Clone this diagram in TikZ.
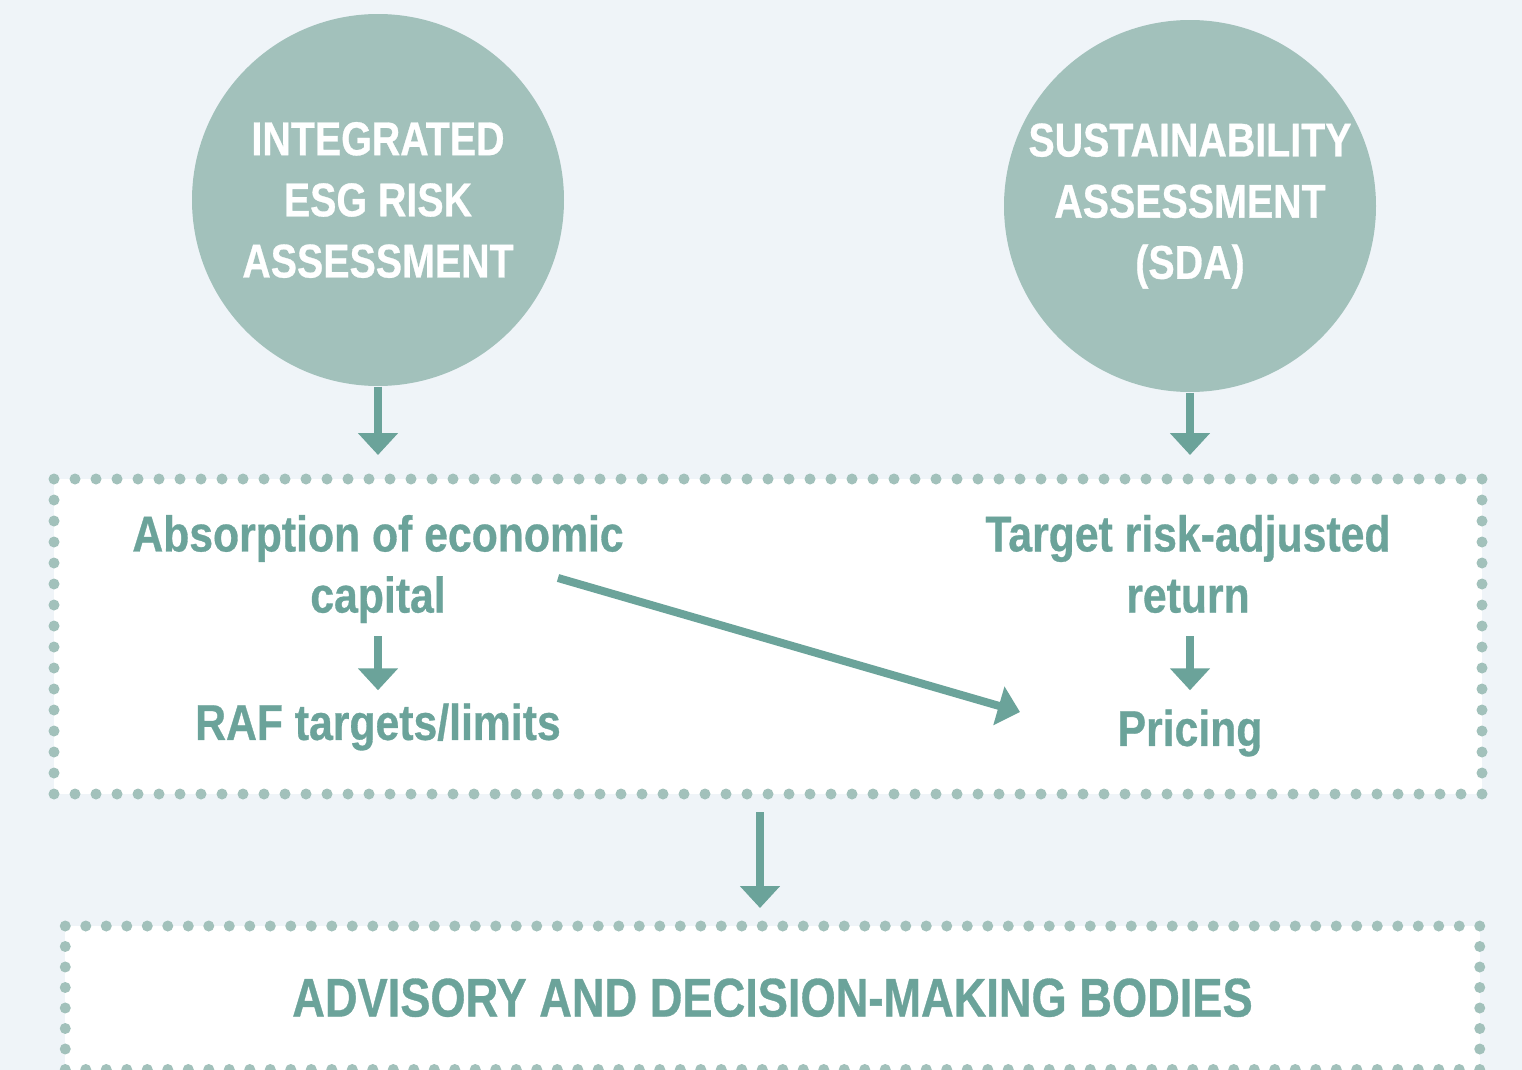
\documentclass[tikz,border=0pt]{standalone}
\usepackage{fontspec}
\setmainfont{Liberation Sans}
\newfontfamily\discfont{Liberation Sans}[FakeStretch=0.83, FakeBold=0.6]
\newfontfamily\boxfont{Liberation Sans}[FakeStretch=0.85, FakeBold=0.6]
\newfontfamily\bodiesfont{Liberation Sans}[FakeStretch=0.83, FakeBold=0.6]
\usetikzlibrary{arrows.meta}
\definecolor{bgblue}{HTML}{EFF4F8}
\definecolor{sage}{HTML}{A2C1BB}
\definecolor{esgteal}{HTML}{6BA39A}

\begin{document}
\begin{tikzpicture}[x=0.1mm, y=-0.1mm,
	disc/.style = { circle, fill=sage, text=white, minimum size=37.2cm/10,
	inner sep=0pt, align=center,
	font=\discfont\bfseries\fontsize{13.5pt}{17.4pt}\selectfont },
	dotbox/.style = { rectangle, draw=sage, fill=white, line width=1.1mm,
	line cap=round, dash pattern=on 0pt off #1 },
	dotbox/.default = 2.1mm,
	txt/.style = { text=esgteal, align=center, inner sep=1.25mm,
	font=\boxfont\bfseries\fontsize{14.3pt}{17.4pt}\selectfont },
	arr/.style = { draw=esgteal, line width=0.8mm,
	-{Triangle[width=3.9mm, length=2.2mm]} } ]

  \path [use as bounding box, fill=bgblue] (0,0) rectangle (1522,1070);

  \node [name=esg, disc] at (378,200)
	{INTEGRATED\\ESG RISK\\ASSESSMENT};
  \node [name=sda, disc] at (1190,206)
	{SUSTAINABILITY\\ASSESSMENT\\(SDA)};

  \node [name=risk, dotbox, minimum width=142.8mm,
	minimum height=31.5mm] at (768,636.5) {};
  \node [name=bodies, dotbox=2.05mm, minimum width=141.45mm,
	minimum height=14.35mm, text=esgteal,
	font=\bodiesfont\bfseries\fontsize{15.5pt}{17.4pt}\selectfont]
	at (772.5,997.75) {ADVISORY AND DECISION-MAKING BODIES};

  \node [name=capital, txt] at (378,569) {Absorption of economic\\capital};
  \node [name=raf, txt] at (378,727) {RAF targets/limits};
  \node [name=target, txt] at (1188,564) {Target risk-adjusted\\return};
  \node [name=pricing, txt] at (1190,733) {Pricing};

  \coordinate (capfrom) at (558,578);
  \coordinate (priceto) at (1020,712);

  \draw [arr, shorten >=1.85mm] (esg.south) -- (esg.south |- risk.north);
  \draw [arr, shorten >=1.85mm] (sda.south) -- (sda.south |- risk.north);
  \draw [arr] (capital.south) -- (raf.north);
  \draw [arr] (pricing.north |- capital.south) -- (pricing.north |- raf.north);
  \draw [arr] (capfrom) -- (priceto);
  \draw [arr, shorten <=1.25mm, shorten >=1.25mm]
	([xshift=-0.8mm]risk.south) -- ([xshift=-0.8mm]risk.south |- bodies.north);
\end{tikzpicture}
\end{document}
